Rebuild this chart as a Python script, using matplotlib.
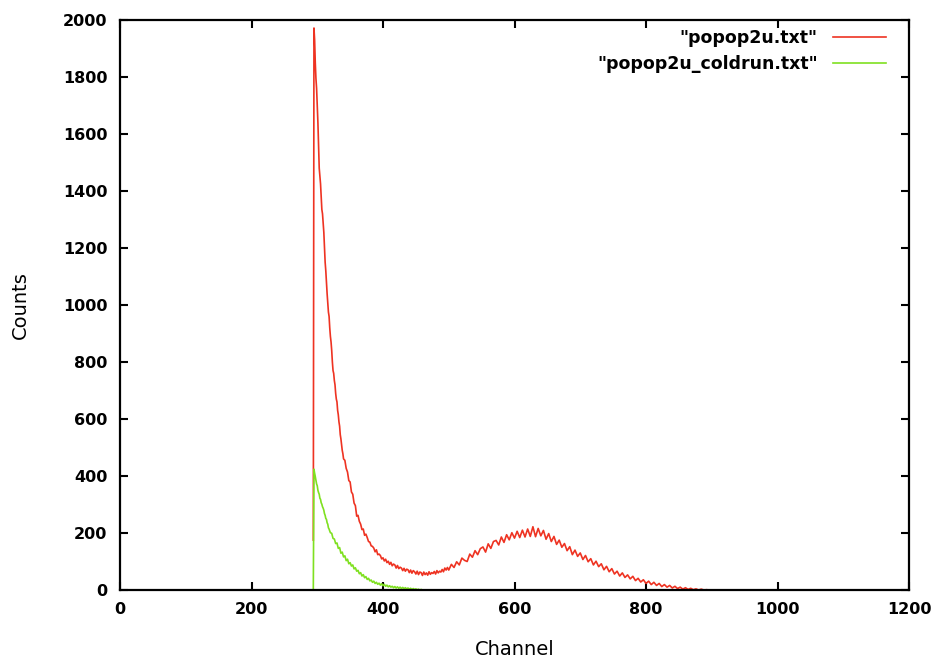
#gnuplot-like spectrum: counts per channel, warm run vs cold run
import numpy as np
import matplotlib
matplotlib.use('Agg')
import matplotlib.pyplot as plt

#red curve, "popop2u.txt"
#channels 294..340, one per channel
red_fine=[175,1972,1930,1850,1795,1760,1700,1640,1560,1480,1450,1425,1380,1335,1320,1290,
          1255,1200,1150,1120,1080,1040,1010,975,960,920,890,870,840,800,770,760,735,720,
          690,670,660,630,615,590,575,545,530,510,490,478,460]
#channels 342..498, every 2nd
red_mid=[455,427,414,384,379,344,336,305,296,259,262,241,231,212,214,192,196,184,170,168,
         155,153,147,134,141,124,126,121,109,113,102,108,96,101,90,97,85,91,88,77,86,75,
         80,77,68,76,66,73,71,61,70,59,68,64,56,66,54,63,61,51,63,54,60,52,64,55,61,58,
         65,56,68,60,66,63,72,64,77,70,79]
#channels 500..892, every 4th
red_tail=[70,90,79,99,88,112,104,100,126,115,138,124,145,151,133,162,146,170,174,158,186,
          167,194,176,201,182,206,184,210,186,214,188,222,187,216,190,209,178,198,170,188,
          160,175,150,163,138,152,124,140,118,130,107,121,99,110,88,101,82,92,71,83,64,75,
          56,66,49,60,44,53,39,48,33,41,28,36,23,31,19,27,16,23,12,19,10,16,7,13,5,10,3,8,
          2,6,1,4,0,3,0,1]

#green curve, "popop2u_coldrun.txt"
#channels 294..320, one per channel
green_fine=[0,424,410,398,385,372,366,350,342,336,322,318,306,301,292,287,280,268,262,251,
            248,236,231,218,214,207,201]
#channels 322..460, every 2nd
green_tail=[199,181,179,163,165,146,149,129,133,116,120,103,108,92,96,84,88,74,78,66,69,
            57,61,49,54,43,47,37,41,32,35,27,31,23,27,20,24,17,22,15,20,13,17,11,15,10,13,
            8,12,7,11,6,10,5,9,5,8,4,7,3,6,2,5,2,4,1,3,0,2,0]

red_ch=np.concatenate([np.arange(294,294+len(red_fine)),
                       np.arange(342,342+2*len(red_mid),2),
                       np.arange(500,500+4*len(red_tail),4)])
red=np.array(red_fine+red_mid+red_tail)
green_ch=np.concatenate([np.arange(294,294+len(green_fine)),
                         np.arange(322,322+2*len(green_tail),2)])
green=np.array(green_fine+green_tail)

plt.rcParams['font.family']='DejaVu Sans'
fig=plt.figure(figsize=(9.38,6.6),dpi=100)
ax=fig.add_axes([120/938,70/660,789/938,570/660])

ax.plot(red_ch,red,color='#ee3322',lw=1.2,label='"popop2u.txt"')
ax.plot(green_ch,green,color='#7fe020',lw=1.2,label='"popop2u_coldrun.txt"')

ax.set_xlim(0,1200)
ax.set_ylim(0,2000)
ax.set_xticks(range(0,1201,200))
ax.set_yticks(range(0,2001,200))
ax.tick_params(direction='in',length=6,width=1.5,top=True,right=True,pad=9,labelsize=11.5)
for lab in ax.get_xticklabels()+ax.get_yticklabels():
    lab.set_fontweight('bold')
for s in ax.spines.values():
    s.set_linewidth(1.6)

ax.set_xlabel('Channel',fontsize=14,labelpad=16)
ax.set_ylabel('Counts',fontsize=14,labelpad=24)

leg=ax.legend(loc='upper right',bbox_to_anchor=(0.980,0.9965),frameon=False,markerfirst=False,
              handlelength=3.05,prop={'size':12.5,'weight':'bold'},borderaxespad=0,
              labelspacing=0.45,handletextpad=0.9)
for t in leg.get_texts():
    t.set_ha('right')

fig.savefig('out.png',dpi=100)
